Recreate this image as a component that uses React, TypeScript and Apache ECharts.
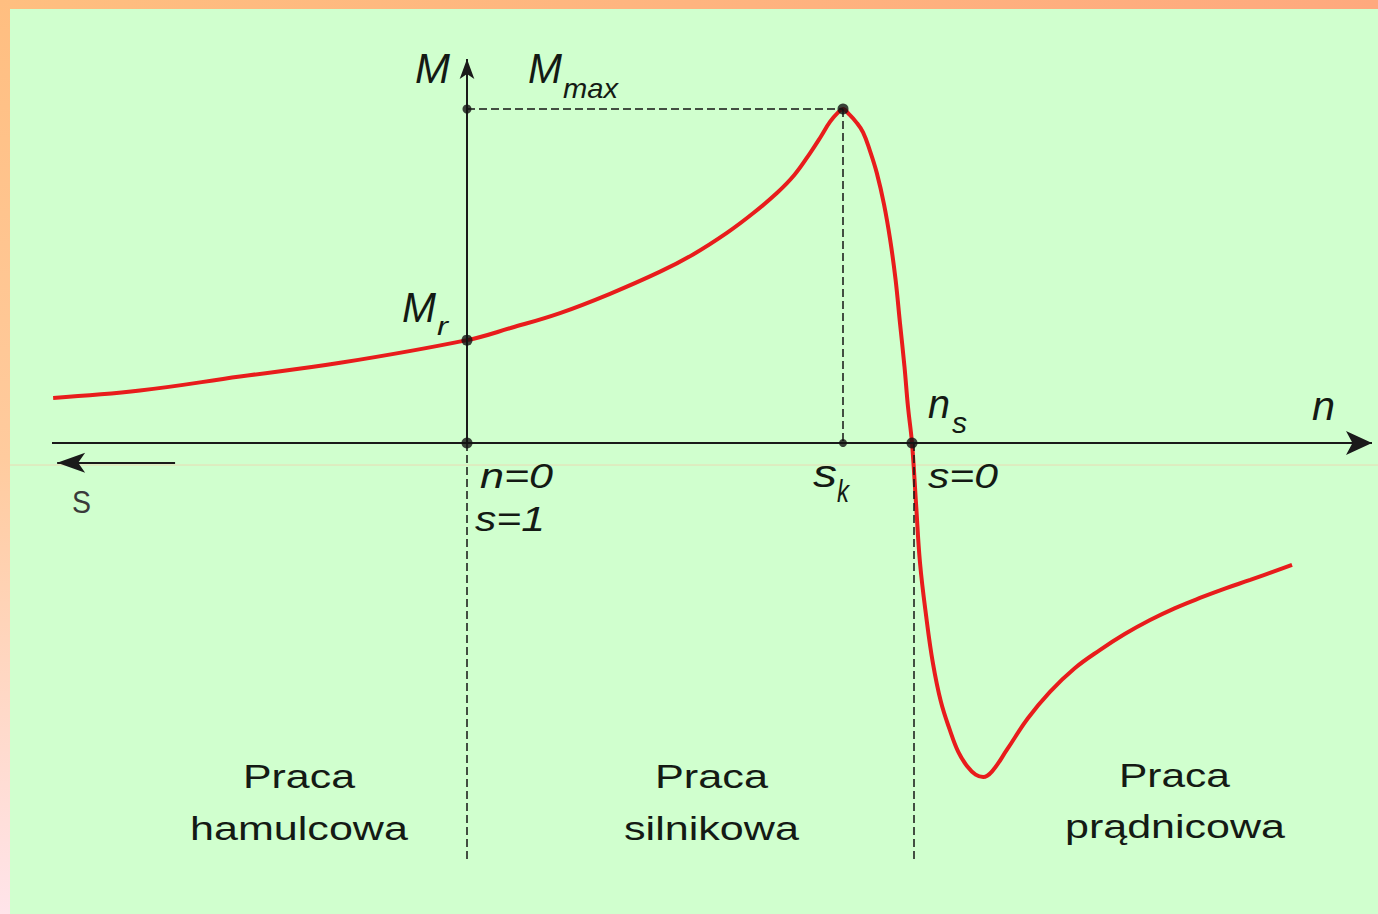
import React, { useEffect, useRef } from "react";
import * as echarts from "echarts";

const W = 1378;
const H = 914;

// Torque-speed curve of an induction machine (n relative to n_s, M relative to M_max)
const speedN = [
  -0.93, -0.735, -0.51, -0.285, 0.0, 0.1, 0.209, 0.32, 0.434, 0.51, 0.584, 0.645, 0.697, 0.736,
  0.771, 0.795, 0.816, 0.834, 0.845, 0.858, 0.875, 0.89, 0.905, 0.921, 0.937, 0.951, 0.963,
  0.973, 0.983, 0.991, 1.0, 1.009, 1.018, 1.032, 1.047, 1.065, 1.085, 1.104, 1.124, 1.143, 1.16,
  1.18, 1.213, 1.26, 1.31, 1.365, 1.422, 1.478, 1.535, 1.59, 1.647, 1.703, 1.76, 1.854,
];
const torqueM = [
  0.135, 0.157, 0.199, 0.24, 0.308, 0.345, 0.389, 0.446, 0.513, 0.566, 0.629, 0.69, 0.749, 0.803,
  0.868, 0.917, 0.962, 0.99, 1.0, 0.985, 0.96, 0.93, 0.877, 0.808, 0.715, 0.608, 0.49,
  0.359, 0.23, 0.108, 0.0, -0.18, -0.359, -0.52, -0.659, -0.775, -0.859, -0.925, -0.968, -0.993,
  -1.0, -0.983, -0.919, -0.825, -0.745, -0.675, -0.62, -0.572, -0.53, -0.495, -0.464, -0.436,
  -0.41, -0.365,
];

// Characteristic points: Mmax on axis, Mr, origin, s_k, peak, n_s
const keyPointN = [0, 0, 0, 0.845, 0.845, 1.0];
const keyPointM = [1.0, 0.308, 0, 0, 1.0, 0];
const keyPointSize = [9, 11, 11, 8, 11, 11];

const M_MAX = 1.0;
const S_K_N = 0.845;
const GEN_DASH_N = 1.004;
const DASH_BOTTOM = -1.2545;
const AXIS_N_START = -0.9326;
const AXIS_N_END = 2.0337;
const AXIS_M_END = 1.1497;
const SLIP_ARROW_FROM = -0.656;
const SLIP_ARROW_TO = -0.921;
const SLIP_ARROW_M = -0.059;

// Axis range so the plot maps onto the page
const X_MIN = -467 / 445;
const X_MAX = 911 / 445;
const Y_MIN = -471 / 334;
const Y_MAX = 443 / 334;

// Text labels
const labelTexts = [
  "M", "M", "max", "M", "r", "n", "s", "s", "k", "n=0", "s=1", "s=0", "n", "S",
  "Praca", "hamulcowa", "Praca", "silnikowa", "Praca", "prądnicowa",
];
// [left, inkWidth, baseline, fontSize, italic]
const labelLayout: [number, number, number, number, boolean][] = [
  [415, 35, 83, 43, true],
  [528, 34, 83, 43, true],
  [563, 55, 98, 28, true],
  [402, 34, 322, 42, true],
  [437, 11, 335, 26, true],
  [928, 22, 418, 40, true],
  [952, 15, 433, 30, true],
  [813, 24, 487, 38, true],
  [837, 12, 502, 32, true],
  [480, 73, 488, 35, true],
  [475, 70, 531, 35, true],
  [928, 70, 488, 35, true],
  [1312, 23, 420, 40, true],
  [72, 19, 513, 32, false],
  [243, 112, 788, 33, false],
  [190, 218, 840, 33, false],
  [655, 113, 788, 33, false],
  [624, 175, 840, 33, false],
  [1119, 111, 787, 33, false],
  [1065, 220, 838, 33, false],
];

const FONT = "Liberation Sans";

function measure(text: string, size: number, italic: boolean): number {
  const c = document.createElement("canvas");
  const ctx = c.getContext("2d");
  if (!ctx) return 0;
  ctx.font = `${italic ? "italic " : ""}${size}px "${FONT}"`;
  return ctx.measureText(text).width;
}

export default function App() {
  const ref = useRef<HTMLDivElement>(null);

  useEffect(() => {
    if (!ref.current) return;
    const chart = echarts.init(ref.current, null, { renderer: "svg" });

    const axisStyle = { color: "#1a1a1a", width: 2, type: "solid" as const };
    const dashStyle = { color: "#151515", width: 1.5, type: [8, 4] as any };

    const textEls = labelTexts.map((t, i) => {
      const [left, w, base, size, italic] = labelLayout[i];
      const mw = measure(t, size, italic);
      const sx = mw > 0 ? w / mw : 1;
      return {
        type: "text",
        x: left,
        y: base - 0.347 * size,
        scaleX: sx,
        z: 100,
        silent: true,
        style: {
          text: t,
          x: 0,
          y: 0,
          fontSize: size,
          fontFamily: FONT,
          fontStyle: italic ? "italic" : "normal",
          fill: i === 13 ? "#3a3a3a" : "#141a14",
          align: "left",
          verticalAlign: "middle",
        },
      };
    });

    const option: any = {
      animation: false,
      backgroundColor: "#D0FFCE",
      grid: { left: 0, right: 0, top: 0, bottom: 0, containLabel: false },
      xAxis: { type: "value", min: X_MIN, max: X_MAX, show: false },
      yAxis: { type: "value", min: Y_MIN, max: Y_MAX, show: false },
      graphic: [
        {
          type: "rect",
          shape: { x: 0, y: 0, width: W, height: 9 },
          silent: true,
          style: {
            fill: new echarts.graphic.LinearGradient(0, 0, 1, 0, [
              { offset: 0, color: "#FFBF80" },
              { offset: 1, color: "#FFA97E" },
            ]),
          },
        },
        {
          type: "rect",
          shape: { x: 0, y: 0, width: 10, height: H },
          silent: true,
          style: {
            fill: new echarts.graphic.LinearGradient(0, 0, 0, 1, [
              { offset: 0, color: "#FFBE80" },
              { offset: 0.5, color: "#FFCB9E" },
              { offset: 1, color: "#FFE4EA" },
            ]),
          },
        },
        {
          type: "line",
          silent: true,
          shape: { x1: 10, y1: 465, x2: W, y2: 465 },
          style: { stroke: "#F5CBA8", lineWidth: 1, opacity: 0.7 },
        },
        ...textEls,
      ],
      series: [
        {
          type: "scatter",
          z: 5,
          data: keyPointN.map((n, i) => ({ value: [n, keyPointM[i]], symbolSize: keyPointSize[i] })),
          itemStyle: { color: "#111" },
          markLine: {
            silent: true,
            animation: false,
            symbol: "none",
            label: { show: false },
            emphasis: { disabled: true },
            data: [
              [
                { coord: [AXIS_N_START, 0], symbol: "none", lineStyle: axisStyle },
                { coord: [AXIS_N_END, 0], symbol: "arrow", symbolSize: [18, 26] },
              ],
              [
                { coord: [0, 0], symbol: "none", lineStyle: axisStyle },
                { coord: [0, AXIS_M_END], symbol: "arrow", symbolSize: [11, 20] },
              ],
              [
                { coord: [SLIP_ARROW_FROM, SLIP_ARROW_M], symbol: "none", lineStyle: axisStyle },
                { coord: [SLIP_ARROW_TO, SLIP_ARROW_M], symbol: "arrow", symbolSize: [15, 28] },
              ],
              [
                { coord: [0, M_MAX], symbol: "none", lineStyle: dashStyle },
                { coord: [S_K_N, M_MAX], symbol: "none" },
              ],
              [
                { coord: [S_K_N, M_MAX], symbol: "none", lineStyle: dashStyle },
                { coord: [S_K_N, 0], symbol: "none" },
              ],
              [
                { coord: [0, 0], symbol: "none", lineStyle: dashStyle },
                { coord: [0, DASH_BOTTOM], symbol: "none" },
              ],
              [
                { coord: [GEN_DASH_N, 0], symbol: "none", lineStyle: dashStyle },
                { coord: [GEN_DASH_N, DASH_BOTTOM], symbol: "none" },
              ],
            ],
          },
        },
        {
          type: "line",
          z: 4,
          data: speedN.map((n, i) => [n, torqueM[i]]),
          smooth: 0.4,
          showSymbol: false,
          symbol: "none",
          lineStyle: { color: "#E81C1C", width: 4 },
          silent: true,
        },
      ],
    };

    chart.setOption(option);
    return () => chart.dispose();
  }, []);

  return (
    <div
      ref={ref}
      style={{ position: "absolute", left: 0, top: 0, width: W, height: H }}
    />
  );
}
